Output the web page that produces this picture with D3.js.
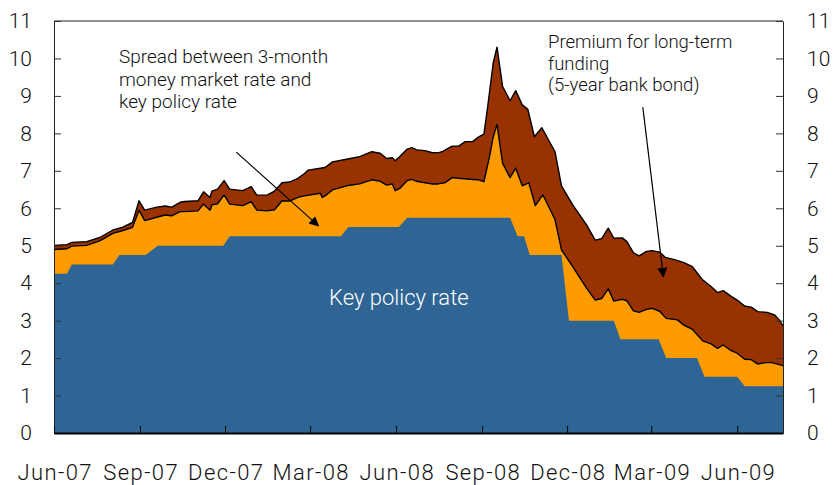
<!DOCTYPE html>
<html>
<head>
<meta charset="utf-8">
<script src="https://cdn.jsdelivr.net/npm/d3@7"></script>
<style>
  body { margin: 0; background: #fff; }
  text { font-family: Roboto, "Liberation Sans", sans-serif; font-weight: 300; fill: #111; }
</style>
</head>
<body>
<div id="Vis"></div>
<script>
// tick labels on the time axis
var xTickLabels = ["Jun-07", "Sep-07", "Dec-07", "Mar-08", "Jun-08", "Sep-08", "Dec-08", "Mar-09", "Jun-09"];
var yTicks = [0, 1, 2, 3, 4, 5, 6, 7, 8, 9, 10, 11];

// key policy rate (per cent)
var policyRate = [
  ["2007-06-01", 4.25], ["2007-06-15", 4.25], ["2007-06-20", 4.5], ["2007-08-03", 4.5],
  ["2007-08-10", 4.75], ["2007-09-07", 4.75], ["2007-09-20", 5.0], ["2007-11-29", 5.0],
  ["2007-12-06", 5.25], ["2008-04-03", 5.25], ["2008-04-11", 5.5], ["2008-06-04", 5.5],
  ["2008-06-13", 5.75], ["2008-10-01", 5.75], ["2008-10-09", 5.25], ["2008-10-16", 5.25],
  ["2008-10-22", 4.75], ["2008-11-25", 4.75], ["2008-12-03", 3.0], ["2009-01-20", 3.0],
  ["2009-01-27", 2.5], ["2009-03-09", 2.5], ["2009-03-17", 2.0], ["2009-04-19", 2.0],
  ["2009-04-27", 1.5], ["2009-06-01", 1.5], ["2009-06-09", 1.25], ["2009-07-20", 1.25]
];

// 3-month money market rate (per cent)
var moneyRate = [
  ["2007-06-01", 4.90], ["2007-06-15", 4.92], ["2007-06-20", 4.99], ["2007-07-06", 5.01],
  ["2007-07-20", 5.13], ["2007-08-03", 5.33], ["2007-08-13", 5.40], ["2007-08-24", 5.49],
  ["2007-08-31", 5.95], ["2007-09-06", 5.67], ["2007-09-19", 5.76], ["2007-09-28", 5.82],
  ["2007-10-05", 5.80], ["2007-10-14", 5.91], ["2007-10-19", 5.91], ["2007-11-02", 5.93],
  ["2007-11-08", 6.11], ["2007-11-15", 5.95], ["2007-11-17", 6.09], ["2007-11-23", 6.12],
  ["2007-11-30", 6.36], ["2007-12-06", 6.11], ["2007-12-20", 6.07], ["2007-12-29", 6.18],
  ["2008-01-04", 5.95], ["2008-01-15", 5.93], ["2008-01-23", 5.96], ["2008-01-31", 6.20],
  ["2008-02-08", 6.19], ["2008-02-17", 6.29], ["2008-02-24", 6.33], ["2008-03-12", 6.40],
  ["2008-03-14", 6.29], ["2008-03-17", 6.33], ["2008-03-25", 6.49], ["2008-04-09", 6.60],
  ["2008-04-23", 6.65], ["2008-05-06", 6.76], ["2008-05-15", 6.72], ["2008-05-22", 6.62],
  ["2008-05-28", 6.65], ["2008-05-31", 6.47], ["2008-06-05", 6.53], ["2008-06-13", 6.74],
  ["2008-06-18", 6.77], ["2008-06-23", 6.72], ["2008-07-02", 6.68], ["2008-07-09", 6.65],
  ["2008-07-16", 6.65], ["2008-07-23", 6.68], ["2008-07-31", 6.82], ["2008-08-07", 6.80],
  ["2008-08-22", 6.77], ["2008-08-28", 6.76], ["2008-09-03", 6.71], ["2008-09-09", 7.38],
  ["2008-09-13", 7.91], ["2008-09-17", 8.24], ["2008-09-23", 7.20], ["2008-10-01", 6.82],
  ["2008-10-07", 7.07], ["2008-10-14", 6.60], ["2008-10-21", 6.68], ["2008-10-28", 6.07],
  ["2008-11-05", 6.36], ["2008-11-18", 5.70], ["2008-11-25", 4.89], ["2008-12-07", 4.44],
  ["2008-12-22", 3.86], ["2008-12-31", 3.55], ["2009-01-07", 3.59], ["2009-01-14", 3.85],
  ["2009-01-20", 3.52], ["2009-01-29", 3.57], ["2009-02-03", 3.53], ["2009-02-10", 3.26],
  ["2009-02-16", 3.22], ["2009-02-24", 3.30], ["2009-03-02", 3.33], ["2009-03-10", 3.25],
  ["2009-03-17", 3.06], ["2009-03-29", 3.02], ["2009-04-05", 2.88], ["2009-04-14", 2.77],
  ["2009-04-25", 2.46], ["2009-05-04", 2.38], ["2009-05-11", 2.26], ["2009-05-17", 2.35],
  ["2009-05-26", 2.19], ["2009-06-01", 2.13], ["2009-06-09", 1.97], ["2009-06-16", 1.96],
  ["2009-06-23", 1.84], ["2009-07-01", 1.88], ["2009-07-08", 1.88], ["2009-07-14", 1.84],
  ["2009-07-20", 1.80]
];

// 5-year bank bond yield (per cent)
var bondRate = [
  ["2007-06-01", 5.01], ["2007-06-15", 5.03], ["2007-06-20", 5.09], ["2007-07-06", 5.11],
  ["2007-07-20", 5.22], ["2007-08-03", 5.42], ["2007-08-13", 5.49], ["2007-08-24", 5.62],
  ["2007-08-31", 6.20], ["2007-09-06", 5.95], ["2007-09-19", 6.03], ["2007-09-28", 6.06],
  ["2007-10-05", 6.03], ["2007-10-14", 6.16], ["2007-10-19", 6.18], ["2007-11-02", 6.20],
  ["2007-11-08", 6.44], ["2007-11-15", 6.29], ["2007-11-17", 6.46], ["2007-11-23", 6.51],
  ["2007-11-30", 6.74], ["2007-12-06", 6.51], ["2007-12-20", 6.47], ["2007-12-29", 6.58],
  ["2008-01-04", 6.35], ["2008-01-15", 6.35], ["2008-01-23", 6.46], ["2008-01-31", 6.68],
  ["2008-02-08", 6.70], ["2008-02-17", 6.80], ["2008-02-24", 6.93], ["2008-02-28", 7.02],
  ["2008-03-17", 7.09], ["2008-03-25", 7.24], ["2008-04-09", 7.31], ["2008-04-23", 7.38],
  ["2008-05-06", 7.51], ["2008-05-15", 7.47], ["2008-05-22", 7.33], ["2008-05-28", 7.35],
  ["2008-05-31", 7.27], ["2008-06-05", 7.38], ["2008-06-13", 7.58], ["2008-06-18", 7.62],
  ["2008-06-23", 7.56], ["2008-07-02", 7.54], ["2008-07-09", 7.49], ["2008-07-16", 7.48],
  ["2008-07-21", 7.52], ["2008-07-31", 7.66], ["2008-08-07", 7.66], ["2008-08-14", 7.78],
  ["2008-08-22", 7.78], ["2008-08-28", 7.90], ["2008-09-03", 7.98], ["2008-09-07", 8.71],
  ["2008-09-13", 9.89], ["2008-09-17", 10.30], ["2008-09-23", 9.25], ["2008-10-01", 8.87],
  ["2008-10-07", 9.14], ["2008-10-14", 8.76], ["2008-10-20", 8.64], ["2008-10-27", 7.91],
  ["2008-11-04", 8.15], ["2008-11-18", 7.51], ["2008-11-25", 6.60], ["2008-12-07", 6.09],
  ["2008-12-22", 5.55], ["2008-12-31", 5.15], ["2009-01-07", 5.19], ["2009-01-14", 5.47],
  ["2009-01-20", 5.20], ["2009-01-29", 5.21], ["2009-02-03", 5.11], ["2009-02-10", 4.81],
  ["2009-02-16", 4.73], ["2009-02-24", 4.85], ["2009-03-02", 4.87], ["2009-03-10", 4.83],
  ["2009-03-16", 4.69], ["2009-03-26", 4.63], ["2009-04-05", 4.55], ["2009-04-14", 4.44],
  ["2009-04-25", 4.09], ["2009-05-04", 3.91], ["2009-05-11", 3.75], ["2009-05-17", 3.80],
  ["2009-05-26", 3.64], ["2009-06-01", 3.55], ["2009-06-09", 3.39], ["2009-06-16", 3.36],
  ["2009-06-23", 3.24], ["2009-07-03", 3.22], ["2009-07-11", 3.15], ["2009-07-16", 3.02],
  ["2009-07-20", 2.86]
];

// set the dimensions and margins of the graph
var margin = {top: 21, right: 51, bottom: 52, left: 54},
    width = 834 - margin.left - margin.right,
    height = 485 - margin.top - margin.bottom;

var svg = d3.select("#Vis")
  .append("svg")
    .attr("width", 834)
    .attr("height", 485)
  .append("g")
    .attr("transform", "translate(" + margin.left + "," + margin.top + ")");

var parseDate = d3.timeParse("%Y-%m-%d");
var parseTick = d3.timeParse("%b-%y");

function prep(arr) {
  return arr.map(function(d) { return {date: parseDate(d[0]), value: d[1]}; });
}
var policy = prep(policyRate), money = prep(moneyRate), bond = prep(bondRate);

var x = d3.scaleTime()
  .domain([parseDate("2007-06-01"), parseDate("2009-07-20")])
  .range([0, width]);

var y = d3.scaleLinear()
  .domain([0, 11])
  .range([height, 0]);

var area = d3.area()
  .x(function(d) { return x(d.date); })
  .y0(y(0))
  .y1(function(d) { return y(d.value); });

var line = d3.line()
  .x(function(d) { return x(d.date); })
  .y(function(d) { return y(d.value); });

// layered areas, each from zero
svg.append("path").datum(bond).attr("fill", "#983200").attr("d", area);
svg.append("path").datum(money).attr("fill", "#fd9b00").attr("d", area);
svg.append("path").datum(policy).attr("fill", "#2e6594").attr("d", area);

// black outlines on the two market rates
[bond, money].forEach(function(s) {
  svg.append("path").datum(s)
    .attr("fill", "none")
    .attr("stroke", "#000")
    .attr("stroke-width", 1.4)
    .attr("stroke-linejoin", "round")
    .attr("d", line);
});

// top frame line
svg.append("line")
  .attr("x1", 0).attr("x2", width)
  .attr("y1", y(11)).attr("y2", y(11))
  .attr("stroke", "#222").attr("stroke-width", 1);

// Y axes, ticks pointing inward
var yLeft = svg.append("g")
  .call(d3.axisLeft(y).tickValues(yTicks).tickSize(-7).tickSizeOuter(0).tickPadding(22));
var yRight = svg.append("g")
  .attr("transform", "translate(" + width + ",0)")
  .call(d3.axisRight(y).tickValues(yTicks).tickSize(-7).tickSizeOuter(0).tickPadding(24));

[yLeft, yRight].forEach(function(g) {
  g.select(".domain").attr("stroke", "#222");
  g.selectAll(".tick line").attr("stroke", "#333");
  g.selectAll("text").attr("font-size", "21px").attr("font-family", null).attr("fill", "#111");
});

// X axis
var xAxis = svg.append("g")
  .attr("transform", "translate(0," + height + ")")
  .call(d3.axisBottom(x)
    .tickValues(xTickLabels.map(function(t) { return parseTick(t); }))
    .tickFormat(d3.timeFormat("%b-%y"))
    .tickSize(-7).tickSizeOuter(0).tickPadding(31));
xAxis.select(".domain").attr("stroke", "#000").attr("stroke-width", 2);
xAxis.selectAll(".tick line").attr("stroke", "#000");
xAxis.selectAll("text")
  .attr("font-size", "22px")
  .attr("font-family", null)
  .attr("fill", "#111")
  .attr("dx", "0.7px")
  .style("letter-spacing", "1.4px");

// arrow marker
svg.append("defs").append("marker")
  .attr("id", "arrow")
  .attr("viewBox", "0 0 10 10")
  .attr("refX", 9).attr("refY", 5)
  .attr("markerWidth", 10).attr("markerHeight", 10)
  .attr("markerUnits", "userSpaceOnUse")
  .attr("orient", "auto")
  .append("path")
    .attr("d", "M0,0L10,5L0,10Z")
    .attr("fill", "#000");

// annotation: spread
var spreadLabel = svg.append("text")
  .attr("x", 65).attr("y", 42)
  .attr("font-size", "19px");
["Spread between 3-month", "money market rate and", "key policy rate"].forEach(function(t, i) {
  spreadLabel.append("tspan").attr("x", 65).attr("dy", i === 0 ? 0 : 22.5).text(t);
});
svg.append("line")
  .attr("x1", x(parseDate("2007-12-13"))).attr("y1", y(7.5))
  .attr("x2", x(parseDate("2008-03-10"))).attr("y2", y(5.53))
  .attr("stroke", "#000").attr("stroke-width", 1.2)
  .attr("marker-end", "url(#arrow)");

// annotation: premium
var premiumLabel = svg.append("text")
  .attr("x", 494).attr("y", 27)
  .attr("font-size", "18.5px");
["Premium for long-term", "funding", "(5-year bank bond)"].forEach(function(t, i) {
  premiumLabel.append("tspan").attr("x", 494).attr("dy", i === 0 ? 0 : 21.5).text(t);
});
svg.append("line")
  .attr("x1", x(parseDate("2009-02-20"))).attr("y1", y(8.7))
  .attr("x2", x(parseDate("2009-03-14"))).attr("y2", y(4.17))
  .attr("stroke", "#000").attr("stroke-width", 1.2)
  .attr("marker-end", "url(#arrow)");

// label inside blue area
svg.append("text")
  .attr("x", x(parseDate("2008-06-04")))
  .attr("y", y(3.43))
  .attr("text-anchor", "middle")
  .attr("font-size", "22px")
  .style("fill", "#fff")
  .text("Key policy rate");
</script>
</body>
</html>
